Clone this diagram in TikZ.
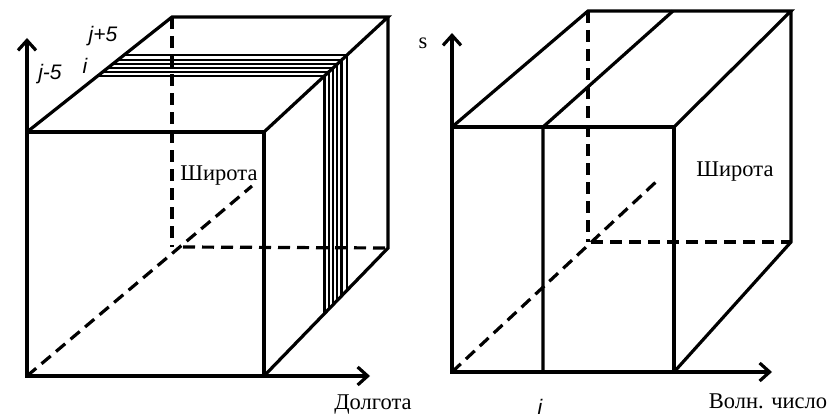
\documentclass[tikz,border=0pt]{standalone}
\usepackage{fontspec}
\setmainfont{Liberation Serif}
\newfontfamily\arialfont{Liberation Sans}
\usetikzlibrary{arrows.meta,calc}
\begin{document}
\begin{tikzpicture}[x=1pt,y=-1pt,
  edge/.style={line width=3.2pt,line cap=butt,line join=miter},
  hidden/.style={line width=3.2pt,dash pattern=on 12pt off 7pt},
  slice/.style={line width=2.4pt},
  axis/.style={line width=3.2pt,-{Straight Barb[length=10pt,width=18pt,line width=3.2pt]}},
  cyr/.style={font=\fontsize{22.5}{24}\selectfont,inner sep=0pt},
  idx/.style={font=\arialfont\itshape\fontsize{21}{23}\selectfont,inner sep=0pt}]
\useasboundingbox (0,0) rectangle (832,420);
% ---------- left cube ----------
\coordinate (A) at (27,132);
\coordinate (B) at (172,17);
\coordinate (C) at (264,132);
\coordinate (D) at (388,17);
\coordinate (E) at (264,376);
\coordinate (F) at (388,248);
\coordinate (O) at (27,376);
\coordinate (H) at (172,247);
\coordinate (Hd) at (183,247);
\coordinate (G) at (252,186);
\coordinate (Ytip) at (27,38);
\coordinate (Xtip) at (370,376);
% slices
\foreach \t in {0.670,0.626,0.591,0.557,0.522,0.487}{
  \draw[slice] ($(A)!\t!(B)$) -- ($(C)!\t!(D)$) -- ($(E)!\t!(F)$);
}
\draw[hidden] (B) -- (H);
\draw[hidden] (Hd) -- (F);
\draw[hidden] (O) -- (G);
\draw[edge] (O) -- (A) -- (C) -- (E) -- cycle;
\draw[edge] (A) -- (B) -- (D) -- (C);
\draw[edge] (D) -- (F) -- (E);
\draw[axis] (O) -- (Ytip);
\draw[axis] (O) -- (Xtip);
\node[cyr] (lat1) at (219,176) {Широта};
\node[cyr] (lon) at (373,405) {Долгота};
\node[idx] (jp) at (103,36) {j+5};
\node[idx] (ii) at (85,66) {i};
\node[idx] (jm) at (50,74) {j-5};
% ---------- right cube ----------
\coordinate (a) at (452,127);
\coordinate (b) at (588,11);
\coordinate (c) at (674,127);
\coordinate (d) at (791,11);
\coordinate (e) at (674,372);
\coordinate (f) at (791,242);
\coordinate (o) at (452,372);
\coordinate (h) at (588,242);
\coordinate (hd) at (591,242);
\coordinate (g) at (658,180);
\coordinate (s1) at (543,127);
\coordinate (s2) at (673,11);
\coordinate (s3) at (543,372);
\coordinate (ytip) at (452,33);
\coordinate (xtip) at (772,372);
\draw[hidden] (b) -- (h);
\draw[hidden] (hd) -- (f);
\draw[hidden] (o) -- (g);
\draw[edge] (o) -- (a) -- (c) -- (e) -- cycle;
\draw[edge] (a) -- (b) -- (d) -- (c);
\draw[edge] (d) -- (f) -- (e);
\draw[edge] (s3) -- (s1) -- (s2);
\draw[axis] (o) -- (ytip);
\draw[axis] (o) -- (xtip);
\node[cyr] (lat2) at (735,172) {Широта};
\node[cyr] (wn) at (768,401) {Волн. число};
\node[cyr] (s) at (423,43) {s};
\node[idx,anchor=south] (ib) at (540,415) {i};
\end{tikzpicture}
\end{document}
